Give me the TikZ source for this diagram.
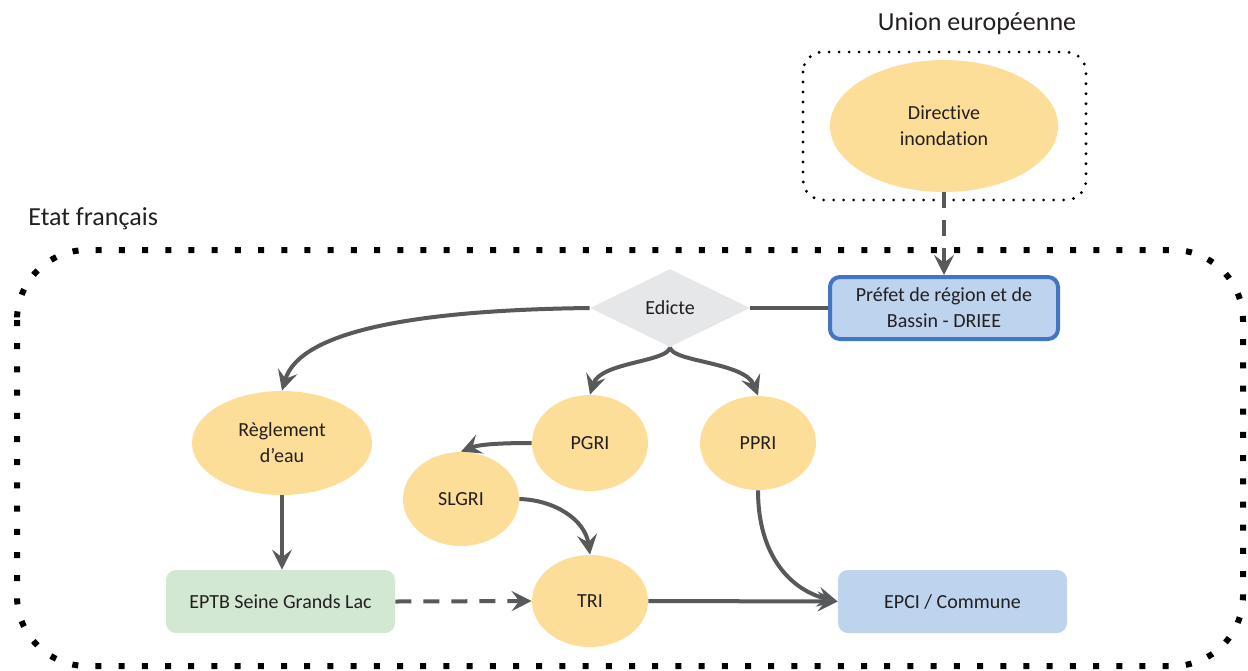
\documentclass[tikz,border=0pt]{standalone}
\usepackage{fontspec}
\setmainfont{Carlito}[Ligatures=NoCommon]
\usetikzlibrary{arrows.meta,shapes.geometric}
\definecolor{arrowgray}{HTML}{58595B}
\definecolor{ovalfill}{HTML}{FDDE98}
\definecolor{prefetfill}{HTML}{BDD3EE}
\definecolor{prefetdraw}{HTML}{4276C3}
\definecolor{eptbfill}{HTML}{D3E8D3}
\definecolor{epcifill}{HTML}{BDD3EE}
\definecolor{diamondfill}{HTML}{E6E7E8}
\definecolor{textdark}{HTML}{231F20}
\begin{document}
\begin{tikzpicture}[x=0.5pt,y=-0.5pt,
  every node/.style={text=textdark, font=\fontsize{10}{13}\selectfont, align=center, inner sep=0pt},
  oval/.style={ellipse, fill=ovalfill},
  boxnode/.style={rounded corners=5pt},
  link/.style={draw=arrowgray, line width=2pt},
  arr/.style={link, -{Stealth[length=10pt,width=10pt,inset=3.8pt]}},
  dashlink/.style={arr, dash pattern=on 8pt off 6pt},
  titlefont/.style={font=\fontsize{13}{15}\selectfont}
]
\useasboundingbox (0,0) rectangle (1248,670);

% scope frames
\draw[line width=3pt, dash pattern=on 3pt off 8.6pt, rounded corners=35pt]
  (17,250) rectangle (1243,666);
\draw[line width=1.6pt, line cap=round, dash pattern=on 0pt off 5pt, rounded corners=10pt]
  (803,52) rectangle (1086,200);
\node[titlefont, anchor=west] (etat) at (28,219) {Etat français};
\node[titlefont] (ue) at (977,24) {Union européenne};

% nodes
\node[oval, minimum width=114pt, minimum height=66pt] (directive) at (944,126) {Directive\\inondation};
\node[boxnode, fill=prefetfill, draw=prefetdraw, line width=2pt,
      minimum width=114pt, minimum height=31pt] (prefet) at (944,308) {Préfet de région et de\\Bassin - DRIEE};
\node[diamond, fill=diamondfill, minimum width=80pt, minimum height=39pt, aspect=2.1] (edicte) at (670,308) {Edicte};
\node[oval, minimum width=90pt, minimum height=52pt] (reglement) at (282,443) {Règlement\\d’eau};
\node[oval, minimum width=58pt, minimum height=48pt] (pgri) at (590,443) {PGRI};
\node[oval, minimum width=58pt, minimum height=47pt] (ppri) at (758,443) {PPRI};
\node[oval, minimum width=58pt, minimum height=47pt] (slgri) at (461,499) {SLGRI};
\node[oval, minimum width=58pt, minimum height=46pt] (tri) at (590,601) {TRI};
\node[boxnode, fill=eptbfill, minimum width=114.5pt, minimum height=31.5pt] (eptb) at (280.5,601.5) {EPTB Seine Grands Lac};
\node[boxnode, fill=epcifill, minimum width=114.5pt, minimum height=31.5pt] (epci) at (952.5,601.5) {EPCI / Commune};

% connectors
\draw[dashlink] (directive.south) -- (prefet.north);
\draw[link] (prefet.west) -- (edicte.east);
\draw[arr] (edicte.west) .. controls (420,310) and (300,330) .. (reglement.north);
\draw[arr] (edicte.south) .. controls (668,362) and (600,362) .. (pgri.north);
\draw[arr] (edicte.south) .. controls (672,362) and (745,362) .. (ppri.north);
\draw[arr] (pgri.west) .. controls (505,443) and (480,444) .. (slgri.north);
\draw[arr] (slgri.east) .. controls (555,500) and (585,520) .. (tri.north);
\draw[arr] (reglement.south) -- (reglement.south |- eptb.north);
\draw[dashlink] (eptb.east) -- (tri.west);
\draw[arr] (tri.east) -- (epci.west);
\draw[arr] (ppri.south) .. controls (758,555) and (790,590) .. (epci.west);
\end{tikzpicture}
\end{document}
